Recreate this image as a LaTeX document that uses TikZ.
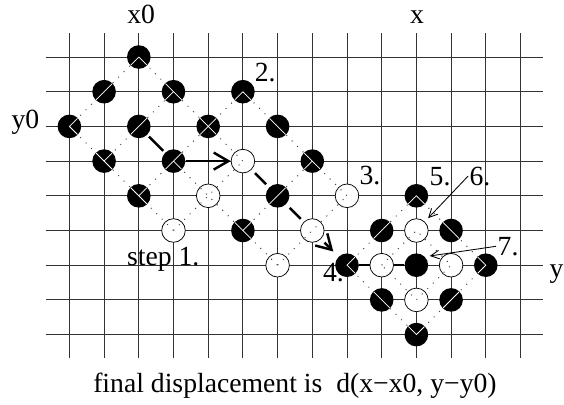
\documentclass[tikz,border=0pt]{standalone}
\usepackage{fontspec}
\setmainfont{Liberation Serif}
\usetikzlibrary{arrows.meta}

% dotted search pattern, drawn twice (dots, then white inside black points)
\newcommand{\searchnet}{(c0r2.center) -- (c2r0.center) (c1r3.center) -- (c3r1.center)
    (c2r4.center) -- (c5r1.center) (c3r5.center) -- (c5r3.center)
    (c5r5.center) -- (c7r3.center) (c6r6.center) -- (c8r4.center)
    (c2r0.center) -- (c5r3.center) (c0r2.center) -- (c3r5.center)
    (c3r3.center) -- (c6r6.center) (c5r1.center) -- (c8r4.center)
    (c8r6.center) -- (c10r4.center) -- (c12r6.center) -- (c10r8.center) -- cycle
    (c9r6.center) -- (c10r5.center) -- (c11r6.center) -- (c10r7.center) -- cycle}

\begin{document}
\begin{tikzpicture}[
        bpt/.style={circle, fill=black, minimum size=0.68cm, inner sep=0pt},
        wpt/.style={circle, draw=black, line width=0.6pt, fill=white, minimum size=0.68cm, inner sep=0pt},
        lbl/.style={inner sep=1pt, font=\fontsize{22.7}{27}\selectfont},
        net/.style={black!75, line width=0.8pt, dash pattern=on 0.8pt off 5.5pt},
        move/.style={line width=2pt, -{Straight Barb[length=12pt, width=14pt]}},
        hint/.style={line width=0.7pt, -{Straight Barb[length=7pt, width=7pt]}, shorten >=4pt}
    ]
        \useasboundingbox (0,0) rectangle (16.254,11.643);

        % Grid
        \draw[black!80, line width=0.8pt] (1.33,1.32) grid (15.66,10.68);

        % Search points (column i at x=2+i, row j at y=10-j)
        \node[bpt] (c2r0) at (4,10) {};
        \node[bpt] (c1r1) at (3,9) {}; \node[bpt] (c3r1) at (5,9) {}; \node[bpt] (c5r1) at (7,9) {};
        \node[bpt] (c0r2) at (2,8) {}; \node[bpt] (c2r2) at (4,8) {}; \node[bpt] (c4r2) at (6,8) {}; \node[bpt] (c6r2) at (8,8) {};
        \node[bpt] (c1r3) at (3,7) {}; \node[bpt] (c3r3) at (5,7) {}; \node[wpt] (c5r3) at (7,7) {}; \node[bpt] (c7r3) at (9,7) {};
        \node[bpt] (c2r4) at (4,6) {}; \node[wpt] (c4r4) at (6,6) {}; \node[bpt] (c6r4) at (8,6) {}; \node[wpt] (c8r4) at (10,6) {};
        \node[wpt] (c3r5) at (5,5) {}; \node[bpt] (c5r5) at (7,5) {}; \node[wpt] (c7r5) at (9,5) {};
        \node[wpt] (c6r6) at (8,4) {};

        % Final search around (x,y)
        \node[bpt] (c10r4) at (12,6) {};
        \node[bpt] (c9r5) at (11,5) {}; \node[wpt] (c10r5) at (12,5) {}; \node[bpt] (c11r5) at (13,5) {};
        \node[bpt] (c8r6) at (10,4) {}; \node[wpt] (c9r6) at (11,4) {}; \node[bpt] (c10r6) at (12,4) {};
        \node[wpt] (c11r6) at (13,4) {}; \node[bpt] (c12r6) at (14,4) {};
        \node[bpt] (c9r7) at (11,3) {}; \node[wpt] (c10r7) at (12,3) {}; \node[bpt] (c11r7) at (13,3) {};
        \node[bpt] (c10r8) at (12,2) {};

        % Dotted pattern
        \draw[net] \searchnet;
        \begin{scope}
            \clip \foreach \p in {c2r0,c1r1,c3r1,c5r1,c0r2,c2r2,c4r2,c6r2,c1r3,c3r3,c7r3,c2r4,c6r4,c5r5,
                c10r4,c9r5,c11r5,c8r6,c12r6,c9r7,c11r7,c10r8} {(\p) circle (0.33)};
            \draw[white, line width=0.6pt] \searchnet;
        \end{scope}

        % Moves
        \draw[line width=2pt, shorten <=2pt, shorten >=2pt] (c2r2) -- (c3r3);
        \draw[move] (c3r3) -- (c5r3);
        \draw[move, dash pattern=on 0.45cm off 0.964cm, dash phase=1.271cm, shorten >=6pt] (c5r3) -- (c8r6);
        \draw[line width=2pt] (c8r6) -- (c9r6) -- (c10r6);

        % Labels
        \node[lbl, anchor=base] (lx0) at (4.07,10.97) {x0};
        \node[lbl, anchor=base] (lx) at (12.02,10.97) {x};
        \node[lbl, anchor=base west] (ly0) at (0.29,7.945) {y0};
        \node[lbl, anchor=base west] (ly) at (15.80,3.65) {y};
        \node[lbl, anchor=base west] (l2) at (7.30,9.29) {2.};
        \node[lbl, anchor=base west] (l3) at (10.32,6.32) {3.};
        \node[lbl, anchor=base west] (l4) at (9.27,3.54) {4.};
        \node[lbl, anchor=base west] (l5) at (12.34,6.31) {5.};
        \node[lbl, anchor=base west] (l6) at (13.49,6.31) {6.};
        \node[lbl, anchor=base west] (l7) at (14.30,4.29) {7.};
        \node[lbl, anchor=base west] (lstep) at (3.62,3.98) {step 1.};
        \node[lbl, anchor=base] (lfinal) at (8.50,0.33) {final displacement is\ \ d(x−x0, y−y0)};

        \draw[hint] (l6.west) -- (c10r5);
        \draw[hint] (l7.west) -- (c10r6.north east);
    \end{tikzpicture}
\end{document}
